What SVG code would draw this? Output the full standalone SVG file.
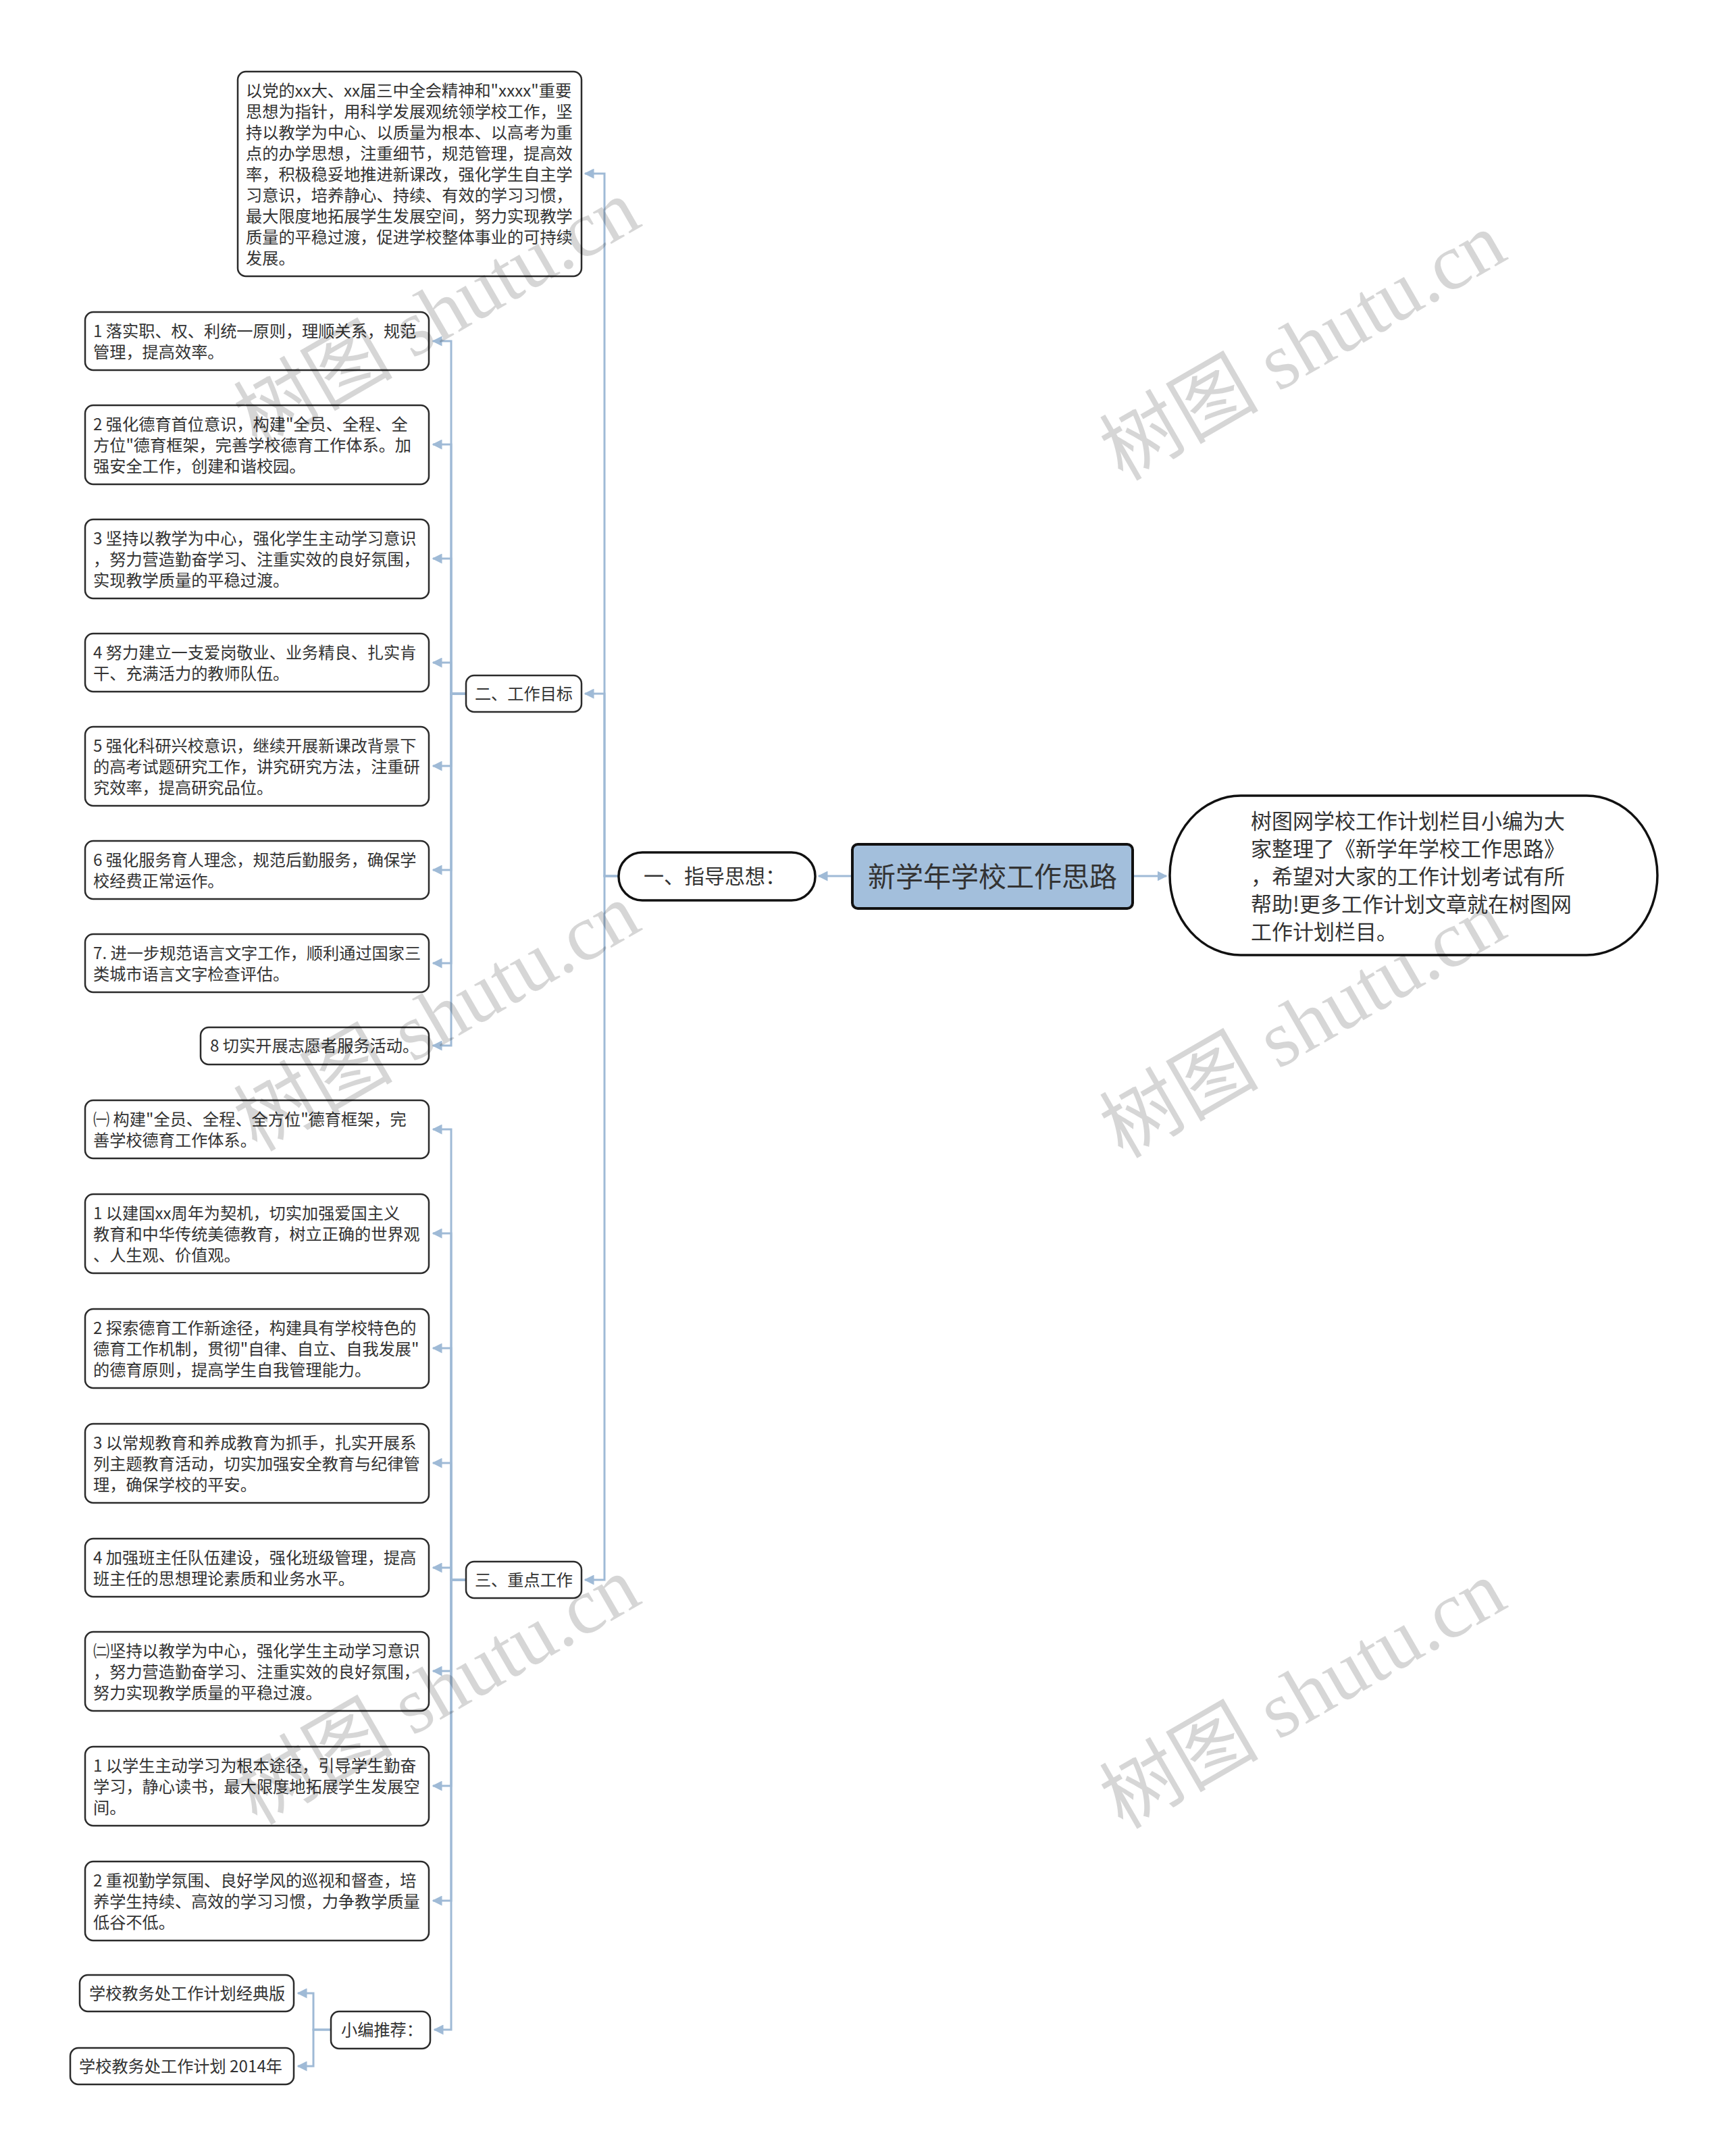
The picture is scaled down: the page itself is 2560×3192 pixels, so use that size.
<svg xmlns="http://www.w3.org/2000/svg" width="2560" height="3192" viewBox="0 0 2560 3192">
<style>
.bg{fill:#ffffff}
.box{fill:#ffffff;stroke:#2b2b2b;stroke-width:2.5}
.t{font-family:"Noto Sans CJK SC","Liberation Sans",sans-serif;font-size:24.2px;fill:#333333}
.tc{text-anchor:middle}
.conn{fill:none;stroke:#9fbad6;stroke-width:3}
.wm{font-family:"Liberation Serif","Noto Sans CJK SC",serif;font-size:118px;fill:#000000;fill-opacity:0.16;text-anchor:middle}
</style>
<defs>
<marker id="arr" markerUnits="userSpaceOnUse" markerWidth="15" markerHeight="15" viewBox="0 0 10 10" refX="9" refY="5" orient="auto">
<path d="M0,0 L10,5 L0,10 z" fill="#9fbad6"/>
</marker>
</defs>
<rect class="bg" x="0" y="0" width="2560" height="3192"/>

<g id="connectors">
<path class="conn" marker-end="url(#arr)" d="M1677,1297 H1727"/>
<path class="conn" marker-end="url(#arr)" d="M1262,1297 H1212"/>
<path class="conn" marker-end="url(#arr)" d="M916,1297 H895 V257 H866"/>
<path class="conn" marker-end="url(#arr)" d="M916,1297 H895 V1027 H866"/>
<path class="conn" marker-end="url(#arr)" d="M916,1297 H895 V2339 H866"/>
<path class="conn" marker-end="url(#arr)" d="M690,1027 H668 V505 H641"/>
<path class="conn" marker-end="url(#arr)" d="M690,1027 H668 V658 H641"/>
<path class="conn" marker-end="url(#arr)" d="M690,1027 H668 V827 H641"/>
<path class="conn" marker-end="url(#arr)" d="M690,1027 H668 V981 H641"/>
<path class="conn" marker-end="url(#arr)" d="M690,1027 H668 V1134 H641"/>
<path class="conn" marker-end="url(#arr)" d="M690,1027 H668 V1288 H641"/>
<path class="conn" marker-end="url(#arr)" d="M690,1027 H668 V1426 H641"/>
<path class="conn" marker-end="url(#arr)" d="M690,1027 H668 V1548 H641"/>
<path class="conn" marker-end="url(#arr)" d="M690,2339 H668 V1672 H641"/>
<path class="conn" marker-end="url(#arr)" d="M690,2339 H668 V1826 H641"/>
<path class="conn" marker-end="url(#arr)" d="M690,2339 H668 V1996 H641"/>
<path class="conn" marker-end="url(#arr)" d="M690,2339 H668 V2166 H641"/>
<path class="conn" marker-end="url(#arr)" d="M690,2339 H668 V2321 H641"/>
<path class="conn" marker-end="url(#arr)" d="M690,2339 H668 V2474 H641"/>
<path class="conn" marker-end="url(#arr)" d="M690,2339 H668 V2644 H641"/>
<path class="conn" marker-end="url(#arr)" d="M690,2339 H668 V2814 H641"/>
<path class="conn" marker-end="url(#arr)" d="M690,2339 H668 V3005 H643"/>
<path class="conn" marker-end="url(#arr)" d="M490,3005 H464 V2951 H441"/>
<path class="conn" marker-end="url(#arr)" d="M490,3005 H464 V3059 H441"/>
</g>

<g id="root">
<rect x="1262" y="1250" width="415" height="95" rx="8" fill="#a3bfdc" stroke="#111111" stroke-width="4"/>
<text class="t tc" x="1469.5" y="1313" style="font-size:41px">新学年学校工作思路</text>
</g>

<g id="desc">
<rect x="1732" y="1178" width="722" height="236" rx="105" ry="118" fill="#ffffff" stroke="#111111" stroke-width="3.5"/>
<text class="t" style="font-size:31px"><tspan x="1852" y="1227">树图网学校工作计划栏目小编为大</tspan><tspan x="1852" y="1268">家整理了《新学年学校工作思路》</tspan><tspan x="1852" y="1309">，希望对大家的工作计划考试有所</tspan><tspan x="1852" y="1350">帮助!更多工作计划文章就在树图网</tspan><tspan x="1852" y="1391">工作计划栏目。</tspan></text>
</g>

<g id="n1">
<rect x="916" y="1262" width="291" height="71" rx="35" fill="#ffffff" stroke="#111111" stroke-width="3.5"/>
<text class="t tc" x="1058" y="1308" style="font-size:30px">一、指导思想：</text>
</g>

<g id="n1-intro">
<rect class="box" x="352" y="106" width="509" height="303" rx="12"/>
<text class="t"><tspan x="364" y="142.5">以党的xx大、xx届三中全会精神和"xxxx"重要</tspan><tspan x="364" y="173.5">思想为指针，用科学发展观统领学校工作，坚</tspan><tspan x="364" y="204.5">持以教学为中心、以质量为根本、以高考为重</tspan><tspan x="364" y="235.5">点的办学思想，注重细节，规范管理，提高效</tspan><tspan x="364" y="266.5">率，积极稳妥地推进新课改，强化学生自主学</tspan><tspan x="364" y="297.5">习意识，培养静心、持续、有效的学习习惯，</tspan><tspan x="364" y="328.5">最大限度地拓展学生发展空间，努力实现教学</tspan><tspan x="364" y="359.5">质量的平稳过渡，促进学校整体事业的可持续</tspan><tspan x="364" y="390.5">发展。</tspan></text>
</g>

<g id="n2">
<rect class="box" x="690" y="1000" width="171" height="54" rx="12"/>
<text class="t tc" x="775.5" y="1036">二、工作目标</text>
</g>

<g id="n2-1">
<rect class="box" x="126" y="462" width="509" height="86" rx="12"/>
<text class="t"><tspan x="138" y="498.5">1 落实职、权、利统一原则，理顺关系，规范</tspan><tspan x="138" y="529.5">管理，提高效率。</tspan></text>
</g>
<g id="n2-2">
<rect class="box" x="126" y="600" width="509" height="117" rx="12"/>
<text class="t"><tspan x="138" y="636.5">2 强化德育首位意识，构建"全员、全程、全</tspan><tspan x="138" y="667.5">方位"德育框架，完善学校德育工作体系。加</tspan><tspan x="138" y="698.5">强安全工作，创建和谐校园。</tspan></text>
</g>
<g id="n2-3">
<rect class="box" x="126" y="769" width="509" height="117" rx="12"/>
<text class="t"><tspan x="138" y="805.5">3 坚持以教学为中心，强化学生主动学习意识</tspan><tspan x="138" y="836.5">，努力营造勤奋学习、注重实效的良好氛围，</tspan><tspan x="138" y="867.5">实现教学质量的平稳过渡。</tspan></text>
</g>
<g id="n2-4">
<rect class="box" x="126" y="938" width="509" height="86" rx="12"/>
<text class="t"><tspan x="138" y="974.5">4 努力建立一支爱岗敬业、业务精良、扎实肯</tspan><tspan x="138" y="1005.5">干、充满活力的教师队伍。</tspan></text>
</g>
<g id="n2-5">
<rect class="box" x="126" y="1076" width="509" height="117" rx="12"/>
<text class="t"><tspan x="138" y="1112.5">5 强化科研兴校意识，继续开展新课改背景下</tspan><tspan x="138" y="1143.5">的高考试题研究工作，讲究研究方法，注重研</tspan><tspan x="138" y="1174.5">究效率，提高研究品位。</tspan></text>
</g>
<g id="n2-6">
<rect class="box" x="126" y="1245" width="509" height="86" rx="12"/>
<text class="t"><tspan x="138" y="1281.5">6 强化服务育人理念，规范后勤服务，确保学</tspan><tspan x="138" y="1312.5">校经费正常运作。</tspan></text>
</g>
<g id="n2-7">
<rect class="box" x="126" y="1383" width="509" height="86" rx="12"/>
<text class="t"><tspan x="138" y="1419.5">7. 进一步规范语言文字工作，顺利通过国家三</tspan><tspan x="138" y="1450.5">类城市语言文字检查评估。</tspan></text>
</g>
<g id="n2-8">
<rect class="box" x="297" y="1521" width="338" height="55" rx="12"/>
<text class="t" x="311" y="1557">8 切实开展志愿者服务活动。</text>
</g>

<g id="n3">
<rect class="box" x="690" y="2312" width="171" height="54" rx="12"/>
<text class="t tc" x="775.5" y="2348">三、重点工作</text>
</g>

<g id="n3-0">
<rect class="box" x="126" y="1629" width="509" height="86" rx="12"/>
<text class="t"><tspan x="138" y="1665.5">㈠ 构建"全员、全程、全方位"德育框架，完</tspan><tspan x="138" y="1696.5">善学校德育工作体系。</tspan></text>
</g>
<g id="n3-1">
<rect class="box" x="126" y="1768" width="509" height="117" rx="12"/>
<text class="t"><tspan x="138" y="1804.5">1 以建国xx周年为契机，切实加强爱国主义</tspan><tspan x="138" y="1835.5">教育和中华传统美德教育，树立正确的世界观</tspan><tspan x="138" y="1866.5">、人生观、价值观。</tspan></text>
</g>
<g id="n3-2">
<rect class="box" x="126" y="1938" width="509" height="117" rx="12"/>
<text class="t"><tspan x="138" y="1974.5">2 探索德育工作新途径，构建具有学校特色的</tspan><tspan x="138" y="2005.5">德育工作机制，贯彻"自律、自立、自我发展"</tspan><tspan x="138" y="2036.5">的德育原则，提高学生自我管理能力。</tspan></text>
</g>
<g id="n3-3">
<rect class="box" x="126" y="2108" width="509" height="117" rx="12"/>
<text class="t"><tspan x="138" y="2144.5">3 以常规教育和养成教育为抓手，扎实开展系</tspan><tspan x="138" y="2175.5">列主题教育活动，切实加强安全教育与纪律管</tspan><tspan x="138" y="2206.5">理，确保学校的平安。</tspan></text>
</g>
<g id="n3-4">
<rect class="box" x="126" y="2278" width="509" height="86" rx="12"/>
<text class="t"><tspan x="138" y="2314.5">4 加强班主任队伍建设，强化班级管理，提高</tspan><tspan x="138" y="2345.5">班主任的思想理论素质和业务水平。</tspan></text>
</g>
<g id="n3-5">
<rect class="box" x="126" y="2416" width="509" height="117" rx="12"/>
<text class="t"><tspan x="138" y="2452.5">㈡坚持以教学为中心，强化学生主动学习意识</tspan><tspan x="138" y="2483.5">，努力营造勤奋学习、注重实效的良好氛围，</tspan><tspan x="138" y="2514.5">努力实现教学质量的平稳过渡。</tspan></text>
</g>
<g id="n3-6">
<rect class="box" x="126" y="2586" width="509" height="117" rx="12"/>
<text class="t"><tspan x="138" y="2622.5">1 以学生主动学习为根本途径，引导学生勤奋</tspan><tspan x="138" y="2653.5">学习，静心读书，最大限度地拓展学生发展空</tspan><tspan x="138" y="2684.5">间。</tspan></text>
</g>
<g id="n3-7">
<rect class="box" x="126" y="2756" width="509" height="117" rx="12"/>
<text class="t"><tspan x="138" y="2792.5">2 重视勤学氛围、良好学风的巡视和督查，培</tspan><tspan x="138" y="2823.5">养学生持续、高效的学习习惯，力争教学质量</tspan><tspan x="138" y="2854.5">低谷不低。</tspan></text>
</g>

<g id="n3-8">
<rect class="box" x="490" y="2978" width="147" height="55" rx="12"/>
<text class="t" x="505" y="3014">小编推荐：</text>
</g>
<g id="n3-8-1">
<rect class="box" x="118" y="2924" width="317" height="54" rx="12"/>
<text class="t" x="132" y="2960">学校教务处工作计划经典版</text>
</g>
<g id="n3-8-2">
<rect class="box" x="104" y="3032" width="331" height="54" rx="12"/>
<text class="t" x="117" y="3068">学校教务处工作计划 2014年</text>
</g>

<g id="watermarks">
<text class="wm" transform="translate(647,464) rotate(-30)" y="40">树图 shutu.cn</text>
<text class="wm" transform="translate(1929,513) rotate(-30)" y="40">树图 shutu.cn</text>
<text class="wm" transform="translate(647,1506) rotate(-30)" y="40">树图 shutu.cn</text>
<text class="wm" transform="translate(1929,1516) rotate(-30)" y="40">树图 shutu.cn</text>
<text class="wm" transform="translate(647,2503) rotate(-30)" y="40">树图 shutu.cn</text>
<text class="wm" transform="translate(1929,2509) rotate(-30)" y="40">树图 shutu.cn</text>
</g>
</svg>
